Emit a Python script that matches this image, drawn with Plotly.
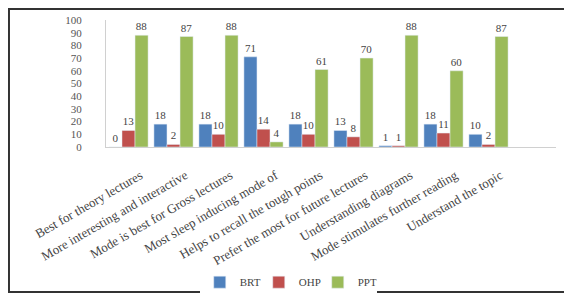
import plotly.graph_objects as go

categories = ["Best for theory lectures", "More interesting and interactive",
              "Mode is best for Gross lectures", "Most sleep inducing mode of",
              "Helps to recall the tough points", "Prefer the most for future lectures",
              "Understanding diagrams", "Mode stimulates further reading",
              "Understand the topic"]
brt = [0, 18, 18, 71, 18, 13, 1, 18, 10]
ohp = [13, 2, 10, 14, 10, 8, 1, 11, 2]
ppt = [88, 87, 88, 4, 61, 70, 88, 60, 87]
series_names = ["BRT", "OHP", "PPT"]
colors = ["#4F81BD", "#C0504D", "#9BBB59"]

fig = go.Figure()
for name, vals, col in zip(series_names, [brt, ohp, ppt], colors):
    fig.add_trace(go.Bar(
        x=categories, y=vals, name=name, marker_color=col,
        text=[str(v) for v in vals], textposition="outside",
        textfont=dict(family="Liberation Serif", size=11, color="#444"),
        cliponaxis=False,
    ))

fig.update_layout(
    width=572, height=299,
    margin=dict(l=98, r=24, t=12, b=160, autoexpand=False),
    barmode="group", bargap=0.13, bargroupgap=0,
    paper_bgcolor="white", plot_bgcolor="white",
    font=dict(family="Liberation Serif", size=11, color="#444"),
    showlegend=True,
    legend=dict(orientation="h", x=0.405, xanchor="center", y=-0.95, yanchor="top",
                font=dict(family="Liberation Serif", size=11, color="#444"),
                itemwidth=30, entrywidth=14, entrywidthmode="pixels"),
)
fig.update_xaxes(
    range=[-0.5, 9.5], tickangle=-30, showline=True, linecolor="#d0d0d0",
    tickfont=dict(family="Liberation Serif", size=13, color="#444"),
    ticks="outside", ticklen=15, tickcolor="white", ticklabelshift=12,
    showgrid=False, automargin=False,
)
fig.update_yaxes(
    range=[0, 100], dtick=10, showline=True, linecolor="#d0d0d0",
    ticks="outside", ticklen=21, tickcolor="white", showgrid=False,
    zeroline=False, automargin=False,
    tickfont=dict(family="Liberation Serif", size=11, color="#555"),
)
fig.add_shape(type="rect", xref="paper", yref="paper",
              x0=-0.2156, x1=1.02, y0=-1.142, y1=1.087,
              line=dict(color="#333", width=2), layer="below")
fig.write_html("out.html")
